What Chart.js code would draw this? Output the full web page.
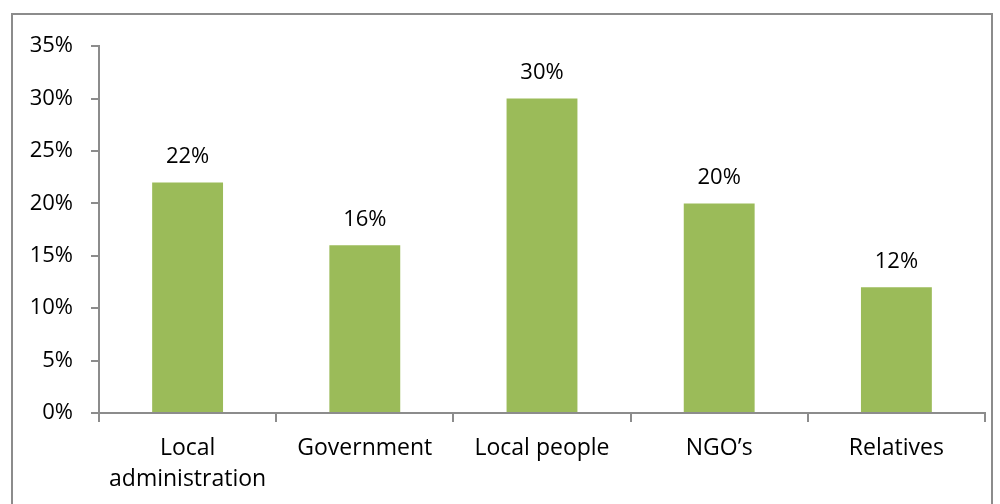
<!DOCTYPE html>
<html><head><meta charset="utf-8">
<script src="https://cdn.jsdelivr.net/npm/chart.js@4/dist/chart.umd.min.js"></script>
<style>
html,body{margin:0;padding:0;background:#fff;overflow:hidden;}
#box{position:absolute;left:11px;top:13px;width:978px;height:500px;border:2px solid #8c8c8c;}
canvas{display:block;}
</style></head><body>
<div id="box"><canvas id="c" width="978" height="489" style="width:978px;height:489px"></canvas></div>
<script>
const categories = [["Local","administration"],"Government","Local people","NGO\u2019s","Relatives"];
const values = [22,16,30,20,12];
const yTicks = [0,5,10,15,20,25,30,35];
const FONT = '"Open Sans", sans-serif';

const labelPlugin = {
  id:'barLabels',
  afterDatasetsDraw(chart){
    const ctx = chart.ctx;
    const meta = chart.getDatasetMeta(0);
    ctx.save();
    ctx.font = '22px ' + FONT;
    ctx.fillStyle = '#000';
    ctx.textAlign = 'center';
    ctx.textBaseline = 'middle';
    meta.data.forEach((bar,i)=>{
      ctx.fillText(values[i]+'%', bar.x, bar.y-26);
    });
    ctx.restore();
  }
};

new Chart(document.getElementById('c'),{
  type:'bar',
  data:{labels:categories,datasets:[{data:values,backgroundColor:'#9bbb59',borderWidth:0,categoryPercentage:0.8,barPercentage:0.5}]},
  options:{
    responsive:false,animation:false,devicePixelRatio:1,
    layout:{padding:{top:28,right:6,left:0,bottom:0}},
    plugins:{legend:{display:false},tooltip:{enabled:false}},
    scales:{
      x:{
        grid:{display:true,drawOnChartArea:false,drawTicks:true,tickLength:9,color:'#8c8c8c',lineWidth:2,offset:true},
        border:{display:true,color:'#8c8c8c',width:2},
        ticks:{color:'#000',font:{family:FONT,size:23,lineHeight:1.35},padding:11,maxRotation:0,autoSkip:false},
        afterFit(s){s.height=91;}
      },
      y:{
        min:0,max:35,
        afterBuildTicks(s){s.ticks=yTicks.map(v=>({value:v}));},
        grid:{display:true,drawOnChartArea:false,drawTicks:true,tickLength:8,color:'#8c8c8c',lineWidth:2},
        border:{display:true,color:'#8c8c8c',width:2},
        ticks:{color:'#000',font:{family:FONT,size:22},padding:18,callback:v=>v+'%'},
        afterFit(s){s.width=86;}
      }
    }
  },
  plugins:[labelPlugin]
});
</script>
</body></html>
